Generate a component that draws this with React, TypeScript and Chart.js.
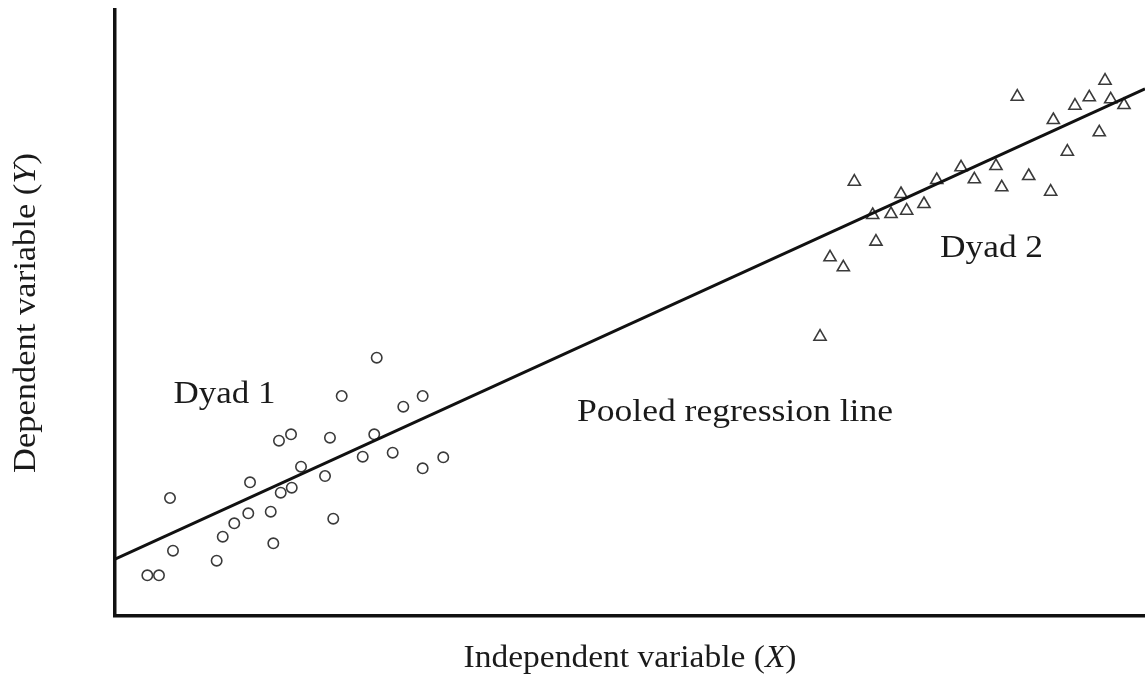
import React, { useEffect, useRef } from "react";
import { Chart, registerables } from "chart.js";

Chart.register(...registerables);

// Dyad 1 (circles)
const dyad1X = [5.34, 5.63, 3.14, 4.27, 9.87, 10.46, 11.58, 12.94, 13.11, 15.12, 15.37, 15.92, 17.09, 16.09, 17.16, 18.06, 20.39, 20.87, 21.19, 22.01, 24.05, 25.17, 25.41, 26.96, 27.99, 29.87, 29.87, 31.87];
const dyad1Y = [19.47, 10.78, 6.72, 6.72, 9.13, 13.09, 15.3, 16.95, 22.06, 17.21, 12.0, 28.93, 29.98, 20.35, 21.17, 24.64, 23.1, 29.42, 16.06, 36.3, 26.29, 29.98, 42.62, 26.95, 34.54, 36.3, 24.37, 26.19];

// Dyad 2 (triangles)
const dyad2X = [71.78, 69.42, 70.71, 68.45, 73.88, 73.56, 75.34, 76.31, 76.86, 78.54, 79.78, 82.14, 83.43, 85.53, 86.09, 88.71, 90.84, 87.6, 91.1, 92.46, 93.2, 94.59, 96.12, 96.67, 95.56, 97.96];
const dyad2Y = [71.67, 59.19, 57.54, 46.09, 61.77, 66.17, 66.34, 69.64, 66.88, 67.99, 71.95, 74.04, 72.06, 74.26, 70.74, 72.61, 70.02, 85.69, 81.85, 76.62, 84.21, 85.59, 88.33, 85.26, 79.82, 84.32];

// Pooled regression line
const lineX = [0, 100];
const lineY = [9.4, 87.0];

// Text
const xTitle = ["Independent variable (", "X", ")"];
const yTitle = ["Dependent variable (", "Y", ")"];
const noteTexts = ["Dyad 1", "Dyad 2", "Pooled regression line"];
const noteX = [5.68, 80.1, 44.85];
const noteY = [35.07, 59.16, 32.26];
const noteWidths = [102, 103, 316];

const FONT_SIZE = 31;
const TEXT_COLOR = "#1a1a1a";
const FONT_FAMILY = '"Liberation Serif", "Times New Roman", serif';

type Seg = { text: string; italic: boolean };

function drawRich(
  ctx: CanvasRenderingContext2D,
  segs: Seg[],
  x: number,
  y: number,
  width: number,
  angle: number,
  center: boolean
) {
  ctx.save();
  ctx.translate(x, y);
  if (angle) ctx.rotate(angle);
  let natural = 0;
  const widths = segs.map((s) => {
    ctx.font = `${s.italic ? "italic " : ""}${FONT_SIZE}px ${FONT_FAMILY}`;
    const w = ctx.measureText(s.text).width;
    natural += w;
    return w;
  });
  const sx = width / natural;
  ctx.scale(sx, 1);
  let cx = center ? -natural / 2 : 0;
  ctx.textBaseline = "alphabetic";
  ctx.textAlign = "left";
  ctx.fillStyle = TEXT_COLOR;
  segs.forEach((s, i) => {
    ctx.font = `${s.italic ? "italic " : ""}${FONT_SIZE}px ${FONT_FAMILY}`;
    ctx.fillText(s.text, cx, 0);
    cx += widths[i];
  });
  ctx.restore();
}

const textPlugin = {
  id: "textPlugin",
  afterDraw(chart: any) {
    const ctx = chart.ctx as CanvasRenderingContext2D;
    const xs = chart.scales.x;
    const ys = chart.scales.y;
    const area = chart.chartArea;
    noteTexts.forEach((t, i) => {
      drawRich(
        ctx,
        [{ text: t, italic: false }],
        xs.getPixelForValue(noteX[i]),
        ys.getPixelForValue(noteY[i]),
        noteWidths[i],
        0,
        false
      );
    });
    // X axis title
    drawRich(
      ctx,
      [
        { text: xTitle[0], italic: false },
        { text: xTitle[1], italic: true },
        { text: xTitle[2], italic: false },
      ],
      630,
      area.bottom + 51,
      333,
      0,
      true
    );
    // Y axis title
    drawRich(
      ctx,
      [
        { text: yTitle[0], italic: false },
        { text: yTitle[1], italic: true },
        { text: yTitle[2], italic: false },
      ],
      area.left - 80,
      (area.top + area.bottom) / 2,
      320,
      -Math.PI / 2,
      true
    );
  },
};

export default function App() {
  const ref = useRef<HTMLCanvasElement | null>(null);

  useEffect(() => {
    document.body.style.margin = "0";
    document.body.style.overflow = "hidden";
    const canvas = ref.current;
    if (!canvas) return;
    const chart = new Chart(canvas, {
      type: "scatter",
      data: {
        datasets: [
          {
            type: "line",
            label: "Pooled regression line",
            data: lineX.map((x, i) => ({ x, y: lineY[i] })),
            borderColor: "#111111",
            borderWidth: 3,
            pointRadius: 0,
            fill: false,
            tension: 0,
          } as any,
          {
            label: "Dyad 1",
            data: dyad1X.map((x, i) => ({ x, y: dyad1Y[i] })),
            pointStyle: "circle",
            pointRadius: 5.2,
            borderWidth: 1.6,
            pointBorderWidth: 1.6,
            borderColor: "#3a3a3a",
            pointBorderColor: "#3a3a3a",
            backgroundColor: "rgba(255,255,255,0)",
            pointBackgroundColor: "rgba(255,255,255,0)",
          },
          {
            label: "Dyad 2",
            data: dyad2X.map((x, i) => ({ x, y: dyad2Y[i] })),
            pointStyle: "triangle",
            pointRadius: 7,
            borderWidth: 1.6,
            pointBorderWidth: 1.6,
            borderColor: "#3a3a3a",
            pointBorderColor: "#3a3a3a",
            backgroundColor: "rgba(255,255,255,0)",
            pointBackgroundColor: "rgba(255,255,255,0)",
          },
        ],
      },
      options: {
        responsive: false,
        animation: false,
        devicePixelRatio: 1,
        layout: { autoPadding: false, padding: { left: 115, top: 10, right: 0, bottom: 66 } },
        plugins: {
          legend: { display: false },
          tooltip: { enabled: false },
          title: { display: false },
        },
        scales: {
          x: {
            type: "linear",
            min: 0,
            max: 100,
            grid: { display: false, drawTicks: false },
            ticks: { display: false },
            border: { display: true, color: "#111111", width: 3.5 },
            afterFit: (s: any) => {
              s.height = 0;
              s.paddingLeft = 0;
              s.paddingRight = 0;
            },
          },
          y: {
            type: "linear",
            min: 0,
            max: 100,
            grid: { display: false, drawTicks: false },
            ticks: { display: false },
            border: { display: true, color: "#111111", width: 3.5 },
            afterFit: (s: any) => {
              s.width = 0;
              s.paddingTop = 0;
              s.paddingBottom = 0;
            },
          },
        },
      },
      plugins: [textPlugin],
    });
    return () => chart.destroy();
  }, []);

  return (
    <div style={{ width: 1145, height: 682, background: "#ffffff", overflow: "hidden" }}>
      <canvas ref={ref} width={1145} height={682} style={{ display: "block" }} />
    </div>
  );
}
